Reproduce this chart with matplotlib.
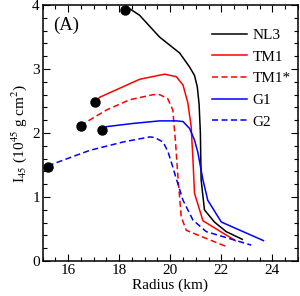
import matplotlib
matplotlib.use("Agg")
import matplotlib.pyplot as plt
from matplotlib.ticker import MultipleLocator

plt.rcParams["font.family"] = ["Liberation Serif", "DejaVu Serif"]
plt.rcParams["mathtext.fontset"] = "stix"

# curves: radius (km), I45
nl3_r = [18.22, 18.42, 18.8, 19.58, 20.37, 20.76, 20.95, 21.06, 21.13, 21.18, 21.21, 21.34, 21.73, 22.19, 22.82]
nl3_i = [3.93, 3.94, 3.84, 3.5, 3.25, 3.03, 2.9, 2.72, 2.45, 2.0, 1.27, 0.8, 0.61, 0.46, 0.34]
tm1_r = [17.05, 17.24, 18.02, 18.8, 19.78, 20.24, 20.5, 20.69, 20.82, 20.89, 20.95, 21.28, 22.55]
tm1_i = [2.48, 2.56, 2.7, 2.84, 2.92, 2.88, 2.75, 2.47, 2.1, 1.58, 1.06, 0.63, 0.32]
tm1s_r = [16.49, 16.66, 17.5, 18.41, 19.33, 19.58, 19.9, 20.1, 20.21, 20.3, 20.43, 20.63, 22.24]
tm1s_i = [2.11, 2.16, 2.36, 2.52, 2.6, 2.6, 2.54, 2.36, 1.84, 1.32, 0.69, 0.48, 0.22]
g1_r = [17.31, 17.5, 18.54, 19.58, 20.24, 20.5, 20.76, 20.95, 21.08, 21.28, 21.47, 22.0, 23.65]
g1_i = [2.04, 2.1, 2.15, 2.19, 2.19, 2.18, 2.07, 1.89, 1.7, 1.27, 0.95, 0.61, 0.32]
g2_r = [15.22, 15.42, 16.85, 18.15, 19.2, 19.39, 19.72, 19.91, 20.1, 20.21, 20.5, 20.89, 21.41, 23.17]
g2_i = [1.47, 1.52, 1.73, 1.86, 1.94, 1.93, 1.86, 1.71, 1.47, 1.32, 0.95, 0.64, 0.46, 0.25]

fig = plt.figure(figsize=(3.0, 2.96), dpi=100)
ax = fig.add_axes([0.142, 0.118, 0.851, 0.865])

dash = (4, 2.2)
ax.plot(nl3_r, nl3_i, color="black", lw=1.1, label="NL3")
ax.plot(tm1_r, tm1_i, color="red", lw=1.1, label="TM1")
ax.plot(tm1s_r, tm1s_i, color="red", lw=1.1, dashes=dash, label="TM1*")
ax.plot(g1_r, g1_i, color="blue", lw=1.1, label="G1")
ax.plot(g2_r, g2_i, color="blue", lw=1.1, dashes=dash, label="G2")

# maximum-mass points
ax.plot([nl3_r[0], tm1_r[0], tm1s_r[0], g1_r[0], g2_r[0]],
        [nl3_i[0], tm1_i[0], tm1s_i[0], g1_i[0], g2_i[0]],
        "o", color="black", ms=6.5, ls="none")

ax.set_xlim(15, 25)
ax.set_ylim(0, 4)
ax.xaxis.set_major_locator(MultipleLocator(2))
ax.xaxis.set_minor_locator(MultipleLocator(0.5))
ax.yaxis.set_major_locator(MultipleLocator(1))
ax.yaxis.set_minor_locator(MultipleLocator(0.2))
ax.tick_params(which="both", direction="in", top=True, right=True, labelsize=11, width=0.8)
ax.tick_params(which="major", length=5, pad=2)
ax.tick_params(which="minor", length=3)
for s in ax.spines.values():
    s.set_linewidth(1.1)

ax.set_xlabel("Radius (km)", fontsize=11, labelpad=1)
ax.set_ylabel(r"I$_{45}$ (10$^{45}$ g cm$^{2}$)", fontsize=11, labelpad=2)
ax.text(0.04, 0.92, "(A)", transform=ax.transAxes, fontsize=13.5, va="center")

ax.legend(loc="upper right", bbox_to_anchor=(1.025, 0.962), frameon=False, fontsize=11,
          handlelength=2.3, handletextpad=0.35, labelspacing=0.52)

fig.savefig("out.png", dpi=100)
